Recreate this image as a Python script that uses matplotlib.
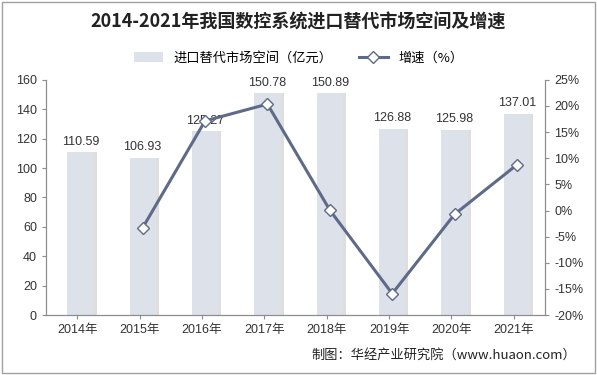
import matplotlib
matplotlib.use('Agg')
from matplotlib import pyplot as plt
from matplotlib.patches import Rectangle
import numpy as np

plt.rcParams['font.family'] = ['Liberation Sans', 'Noto Sans CJK SC', 'DejaVu Sans']

years = ['2014年', '2015年', '2016年', '2017年', '2018年', '2019年', '2020年', '2021年']
market = [110.59, 106.93, 125.27, 150.78, 150.89, 126.88, 125.98, 137.01]
growth = [None, -3.31, 17.15, 20.36, 0.07, -15.91, -0.72, 8.76]

fig = plt.figure(figsize=(5.97, 3.75), dpi=100)
# 外框
fig.patches.append(Rectangle((0.003, 0.005), 0.994, 0.99, transform=fig.transFigure,
                             fill=False, edgecolor='#a0a0a0', linewidth=1))
ax = fig.add_axes([0.077, 0.16, 0.836, 0.627])
x = np.arange(len(years))

# 柱子阴影 + 柱子
ax.bar(x + 0.1, market, width=0.42, color='#c8c8c8', alpha=0.6, zorder=1)
ax.bar(x + 0.05, market, width=0.42, color='#dde1ea', zorder=2, label='进口替代市场空间（亿元）')
for i, v in enumerate(market):
    ax.text(i + 0.05, v + 3, '%.2f' % v, ha='center', va='bottom', fontsize=9, color='#333333')

ax.set_ylim(0, 160)
ax.set_yticks(range(0, 161, 20))
ax.set_xlim(-0.5, len(years) - 0.5)
ax.set_xticks(x)
ax.set_xticklabels(years)

ax2 = ax.twinx()
gx = [i + 0.05 for i, g in enumerate(growth) if g is not None]
gy = [g for g in growth if g is not None]
ax2.plot(gx, gy, color='#5f6a88', linewidth=2.2, marker='D', markersize=6,
         markerfacecolor='white', markeredgecolor='#5f6a88', markeredgewidth=1, zorder=5,
         label='增速（%）')
ax2.set_ylim(-20, 25)
ax2.set_yticks(range(-20, 26, 5))
ax2.set_yticklabels(['%d%%' % v for v in range(-20, 26, 5)])

for a in (ax, ax2):
    a.spines['top'].set_visible(False)
    for s in ('left', 'right', 'bottom'):
        a.spines[s].set_color('#8c8c8c')
    a.tick_params(labelsize=9, colors='#8c8c8c', labelcolor='#333333', length=3)

fig.text(0.5, 0.94, '2014-2021年我国数控系统进口替代市场空间及增速', ha='center', va='center',
         fontsize=13, fontweight='bold', color='#222222',
         family=['Noto Sans CJK SC', 'DejaVu Sans'])

h1, l1 = ax.get_legend_handles_labels()
h2, l2 = ax2.get_legend_handles_labels()
fig.legend(h1 + h2, l1 + l2, loc='center', bbox_to_anchor=(0.5, 0.845), ncol=2,
           frameon=False, handlelength=2.2, columnspacing=2,
           prop={'family': ['Noto Sans CJK SC', 'DejaVu Sans'], 'size': 9.5})

fig.text(0.965, 0.053, '制图：华经产业研究院（www.huaon.com）', ha='right', va='center',
         fontsize=9.5, color='#222222', family=['Noto Sans CJK SC', 'DejaVu Sans'])

plt.savefig('out.png', dpi=100)
